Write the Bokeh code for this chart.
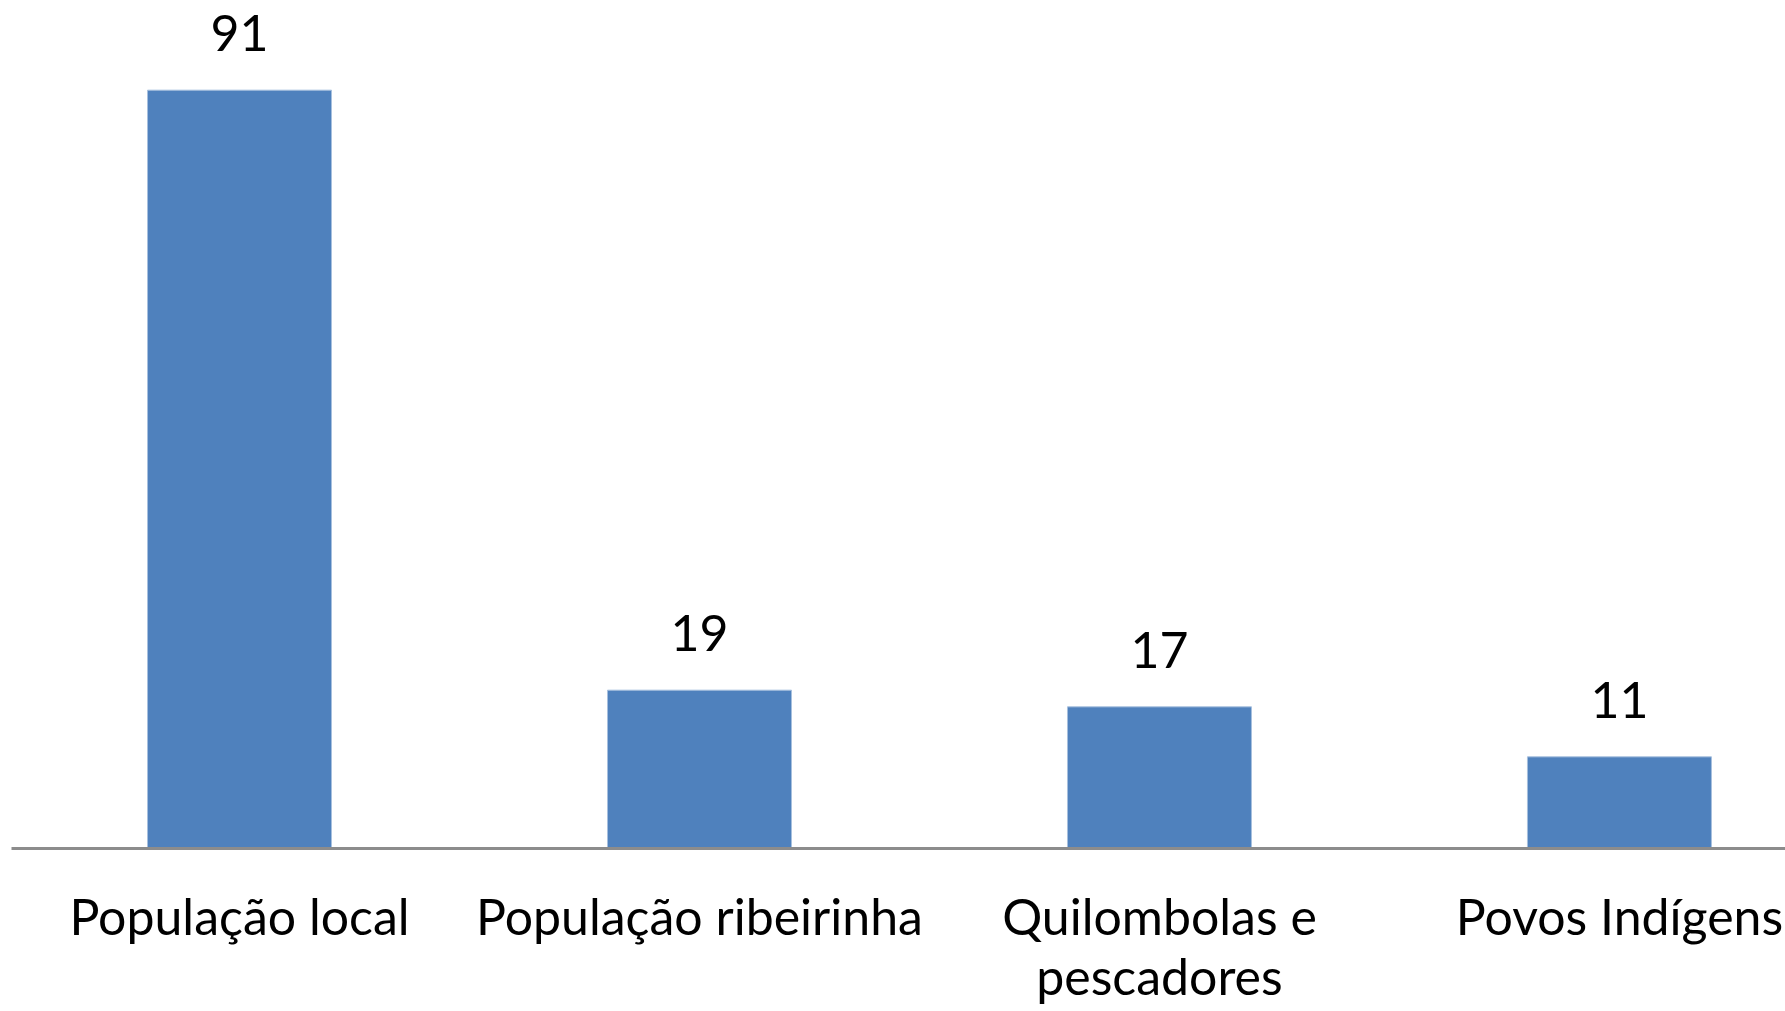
from bokeh.plotting import figure
from bokeh.models import Range1d, ColumnDataSource, FixedTicker
from bokeh.core.properties import value
from bokeh.embed import file_html
from bokeh.resources import INLINE

categories = ["População local", "População ribeirinha", "Quilombolas e\npescadores", "Povos Indígens"]
values = [91, 19, 17, 11]
value_labels = ["91", "19", "17", "11"]

xs = [i + 0.5 for i in range(len(categories))]
src = ColumnDataSource(dict(x=xs, top=values, lab=value_labels))

FONT = "Lato"

p = figure(width=1785, frame_height=840, output_backend="svg", toolbar_location=None,
           x_range=Range1d(0.0043, 3.861), y_range=Range1d(0, 100.8),
           y_axis_location=None, min_border_left=11, min_border_right=0,
           min_border_top=8, min_border_bottom=0)
p.outline_line_color = None
p.grid.visible = False
p.background_fill_color = "white"
p.border_fill_color = "white"

p.vbar(x="x", top="top", bottom=0, width=0.4, source=src,
       fill_color="#4F81BD", line_color="#A7C0DE", line_width=1)

p.text(x="x", y="top", text="lab", source=src, text_align="center",
       text_baseline="alphabetic", y_offset=-57, text_font=value(FONT),
       text_font_size="50px", text_color="#000000")

ax = p.xaxis[0]
ax.ticker = FixedTicker(ticks=xs)
ax.major_label_overrides = {x: c for x, c in zip(xs, categories)}
ax.major_tick_line_color = None
ax.minor_tick_line_color = None
ax.axis_line_color = "#8C8C8C"
ax.axis_line_width = 3
ax.major_label_text_font = FONT
ax.major_label_text_font_size = "50px"
ax.major_label_text_line_height = 1.0
ax.major_label_text_color = "#000000"
ax.major_label_standoff = 31
ax.major_label_orientation = "horizontal"

open("out.html", "w").write(file_html(p, INLINE))
